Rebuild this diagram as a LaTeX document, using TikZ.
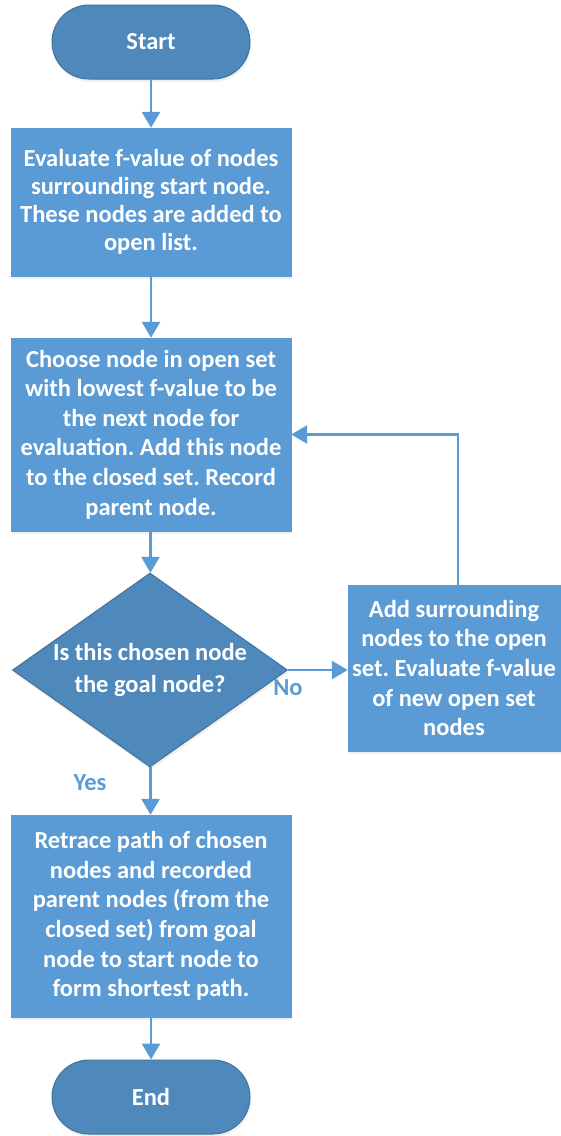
\documentclass[tikz,border=0pt]{standalone}
\usepackage{fontspec}
\setmainfont{Carlito}
\frenchspacing
\usetikzlibrary{shapes.geometric,arrows.meta,shadows}
\definecolor{fc_box}{HTML}{5B9BD5}
\definecolor{fc_term}{HTML}{4F88BB}
\definecolor{fc_edge}{HTML}{41719C}

\tikzset{
    fc_shadow/.style={drop shadow={opacity=0.12, shadow xshift=1pt, shadow yshift=-3pt}},
    terminal/.style={fc_shadow, rectangle, rounded corners=37pt, fill=fc_term, draw=fc_edge, line width=1pt,
        minimum width=198pt, minimum height=74pt, text=white, font=\bfseries\fontsize{24.5}{28}\selectfont},
    process/.style={fc_shadow, rectangle, fill=fc_box, draw=fc_box, text=white, align=center,
        inner sep=0pt, font=\bfseries\fontsize{24.5}{29.6}\selectfont},
    decision/.style={fc_shadow, diamond, fill=fc_term, draw=fc_edge, line width=1pt, aspect=1.42,
        minimum width=275pt, minimum height=194pt, inner sep=0pt, text=white, align=center,
        font=\bfseries\fontsize{24.5}{32}\selectfont},
    flow/.style={draw=fc_box, line width=2.8pt, -{Triangle[width=18pt,length=16pt]}},
    answer/.style={text=fc_box, font=\bfseries\fontsize{24.5}{28}\selectfont}
}

\begin{document}
\begin{tikzpicture}[x=1pt, y=1pt]
        \useasboundingbox (0,0) rectangle (560,-1136);

        % terminals and steps
        \node[terminal] (start) at (151,-42) {Start};
        \node[process, minimum width=280pt, minimum height=148pt, font=\bfseries\fontsize{24.5}{27.8}\selectfont] (surround) at (151,-202)
            {Evaluate f-value of nodes\\surrounding start node.\\These nodes are added to\\open list.};
        \node[process, minimum width=280pt, minimum height=193pt] (choose) at (151,-434.5)
            {Choose node in open set\\with lowest f-value to be\\the next node for\\evaluation. Add this node\\to the closed set. Record\\parent node.};
        \node[decision] (goal) at (150,-670) {Is this chosen node\\the goal node?};
        \node[process, minimum width=212pt, minimum height=166pt] (expand) at (454,-668)
            {Add surrounding\\nodes to the open\\set. Evaluate f-value\\of new open set\\nodes};
        \node[process, minimum width=280pt, minimum height=202pt] (retrace) at (151,-916)
            {Retrace path of chosen\\nodes and recorded\\parent nodes (from the\\closed set) from goal\\node to start node to\\form shortest path.};
        \node[terminal] (finish) at (151,-1097) {End};

        \node[answer] (no) at (288,-688) {No};
        \node[answer] (yes) at (90,-783) {Yes};

        \coordinate (loop) at (458,-434.5);

        % connectors
        \draw[flow] (start) -- (surround);
        \draw[flow] (surround) -- (choose);
        \draw[flow] (choose) -- (goal);
        \draw[flow] (goal.east) -- (goal.east -| expand.west);
        \draw[flow] (goal) -- (retrace);
        \draw[flow] (retrace) -- (finish);
        \draw[flow] (loop |- expand.north) -- (loop) -- (choose.east);

\end{tikzpicture}
\end{document}
